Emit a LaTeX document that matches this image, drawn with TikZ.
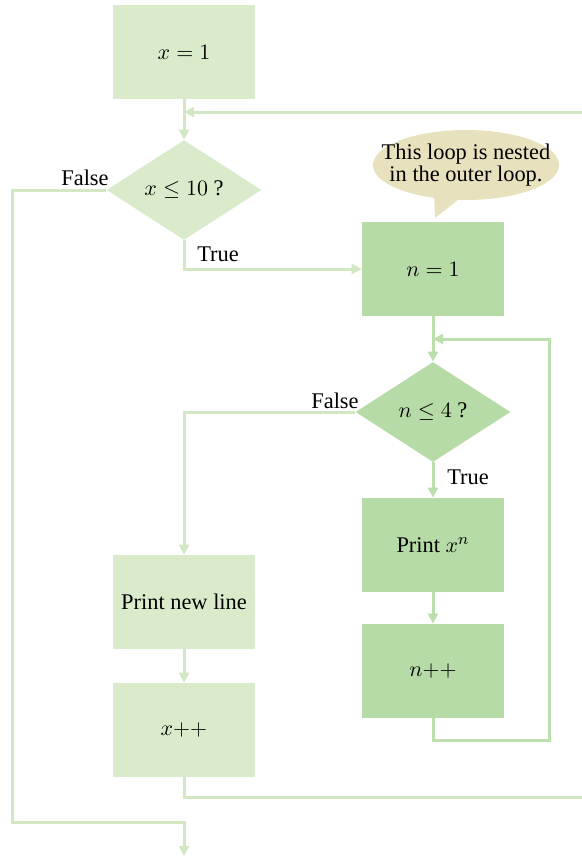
\documentclass[tikz,border=0pt]{standalone}
\usepackage{fontspec}
\setmainfont{Liberation Serif}
\usetikzlibrary{arrows.meta,shapes.geometric,shapes.callouts}
\definecolor{outerfill}{HTML}{DAEBCC}
\definecolor{innerfill}{HTML}{B7DBA6}
\definecolor{outerline}{HTML}{D2E8C3}
\definecolor{innerline}{HTML}{BDDEAD}
\definecolor{tan}{HTML}{E8E1BE}
\begin{document}
\begin{tikzpicture}[x=0.5pt,y=-0.5pt,
  font=\fontsize{11.2}{13}\selectfont,
  box/.style={fill=#1,minimum width=71pt,minimum height=47pt,inner sep=0pt},
  test/.style={diamond,fill=#1,minimum width=77.5pt,minimum height=50pt,inner sep=0pt},
  lbl/.style={inner sep=1pt},
  line/.style={line width=1.5pt,draw=#1},
  arr/.style={line width=1.5pt,draw=#1,-{Triangle[length=5pt,width=5pt,fill=#1]}}]
\useasboundingbox (0,0) rectangle (582,858);
% outer loop
\node[box=outerfill] (x1) at (184,52) {$x = 1$};
\node[test=outerfill] (cx) at (184,190) {$x \leq 10$ ?};
\node[box=outerfill] (pnl) at (184,602) {Print new line};
\node[box=outerfill] (xinc) at (184,730) {$x{+}{+}$};
\coordinate (outin) at (582,112);
\coordinate (xin) at (184,112);
\coordinate (xl) at (12,822);
\coordinate (done) at (184,856);
\coordinate (outret) at (582,797);
% inner loop
\node[box=innerfill] (n1) at (433,269) {$n = 1$};
\node[test=innerfill] (cn) at (433,412) {$n \leq 4$ ?};
\node[box=innerfill] (pxn) at (433,545) {Print $x^n$};
\node[box=innerfill] (ninc) at (433,671) {$n{+}{+}$};
\coordinate (nin) at (433,339);
\coordinate (loopr) at (549,740);
% note
\node[ellipse callout,fill=tan,minimum width=93pt,minimum height=35pt,
  inner xsep=-10pt,inner ysep=-1pt,align=center,
  callout absolute pointer={(435,218)}] (note) at (466,165)
  {This loop is nested\\[-2pt]in the outer loop.};
% connectors
\draw[arr=outerline] (x1) -- (cx);
\draw[arr=outerline] (outin) -- (xin);
\draw[arr=outerline] (cx.west) -| (xl) -| (done);
\draw[arr=outerline] (cx.south) |- (n1.west);
\draw[arr=innerline] (n1) -- (cn);
\draw[arr=innerline] (cn) -- (pxn);
\draw[arr=innerline] (pxn) -- (ninc);
\draw[arr=innerline] (ninc.south) |- (loopr) |- (nin);
\draw[arr=outerline] (cn.west) -| (pnl.north);
\draw[arr=outerline] (pnl) -- (xinc);
\draw[line=outerline] (xinc.south) |- (outret);
% labels
\node[lbl] (f1) at (85,178) {False};
\node[lbl] (t1) at (218,254) {True};
\node[lbl] (f2) at (335,401) {False};
\node[lbl] (t2) at (468,477) {True};
\end{tikzpicture}
\end{document}
